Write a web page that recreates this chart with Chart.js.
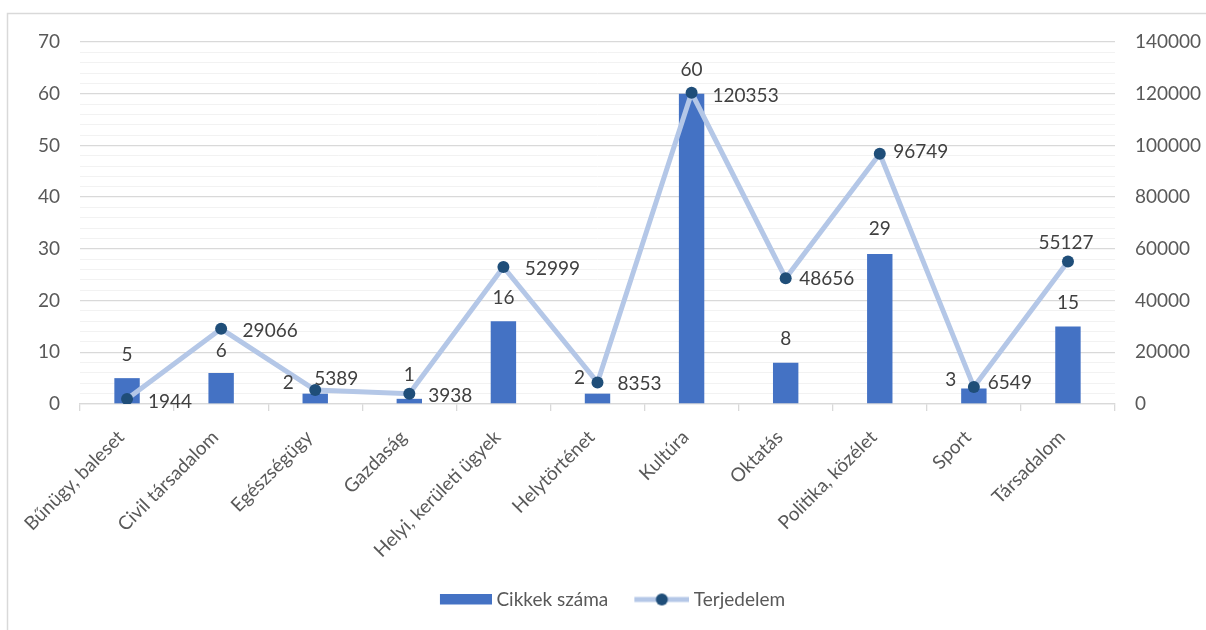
<!DOCTYPE html>
<html>
<head>
<meta charset="utf-8">
<script src="https://cdn.jsdelivr.net/npm/chart.js@4"></script>
<style>
  html, body { margin: 0; padding: 0; background: #ffffff; }
  #wrap { width: 1206px; height: 630px; position: relative; }
</style>
</head>
<body>
<div id="wrap"><canvas id="c" width="1206" height="630"></canvas></div>
<script>
// ---- data ----
const categories = ['Bűnügy, baleset', 'Civil társadalom', 'Egészségügy', 'Gazdaság', 'Helyi, kerületi ügyek', 'Helytörténet', 'Kultúra', 'Oktatás', 'Politika, közélet', 'Sport', 'Társadalom'];
const cikkekSzama = [5, 6, 2, 1, 16, 2, 60, 8, 29, 3, 15];
const terjedelem = [1944, 29066, 5389, 3938, 52999, 8353, 120353, 48656, 96749, 6549, 55127];
const seriesNames = ['Cikkek száma', 'Terjedelem'];
const leftAxis = { min: 0, max: 70, major: 10, minor: 2 };
const rightAxis = { min: 0, max: 140000, step: 20000 };

// ---- label placement (layout only) ----
const barLabelOffsets = [[0,-23],[0,-22],[-27,-11],[0,-24],[0,-23],[-18,-16],[0,-24],[0,-24],[0,-25],[-23,-9],[0,-24]];
const lineLabelOffsets = [[43,3],[49,2],[21,-11],[41,2],[49,2],[42,1],[54,3],[41,1],[41,-2],[36,-4],[-2,-19]];

const FONT = 'Lato';
const FS = 19;
const TEXT = '#595959';
const LABEL = '#404040';
const BAR = '#4472c4';
const LINE = '#b4c7e7';
const DOT = '#1f4e79';

Chart.defaults.font.family = FONT;
Chart.defaults.font.size = FS;
Chart.defaults.color = TEXT;

function makeBarSymbol() {
  const c = document.createElement('canvas');
  c.width = 76; c.height = 12;
  const g = c.getContext('2d');
  g.fillStyle = BAR;
  g.fillRect(24, 0, 52, 11);
  return c;
}
function makeLineSymbol() {
  const c = document.createElement('canvas');
  c.width = 76; c.height = 14;
  const g = c.getContext('2d');
  g.strokeStyle = LINE;
  g.lineWidth = 5;
  g.beginPath(); g.moveTo(21, 7); g.lineTo(76, 7); g.stroke();
  g.fillStyle = DOT;
  g.beginPath(); g.arc(48.5, 7, 6, 0, Math.PI * 2); g.fill();
  return c;
}
const barSymbol = makeBarSymbol();
const lineSymbol = makeLineSymbol();

const frame = {
  id: 'frame',
  beforeDraw(chart) {
    const ctx = chart.ctx;
    ctx.save();
    ctx.fillStyle = '#ffffff';
    ctx.fillRect(0, 0, chart.width, chart.height);
    ctx.strokeStyle = '#d9d9d9';
    ctx.lineWidth = 1.5;
    ctx.strokeRect(7.5, 13.5, chart.width + 10, chart.height + 10);
    ctx.restore();
  }
};

const valueLabels = {
  id: 'valueLabels',
  afterDatasetsDraw(chart) {
    const ctx = chart.ctx;
    ctx.save();
    ctx.font = FS + 'px ' + FONT;
    ctx.fillStyle = LABEL;
    ctx.textAlign = 'center';
    ctx.textBaseline = 'middle';
    const barMeta = chart.getDatasetMeta(0);
    barMeta.data.forEach((el, i) => {
      const o = barLabelOffsets[i];
      ctx.fillText(String(cikkekSzama[i]), el.x + o[0], el.y + o[1]);
    });
    const lineMeta = chart.getDatasetMeta(1);
    lineMeta.data.forEach((el, i) => {
      const o = lineLabelOffsets[i];
      ctx.fillText(String(terjedelem[i]), el.x + o[0], el.y + o[1]);
    });
    ctx.restore();
  }
};

new Chart(document.getElementById('c'), {
  data: {
    labels: categories,
    datasets: [
      {
        type: 'bar',
        label: seriesNames[0],
        data: cikkekSzama,
        backgroundColor: BAR,
        yAxisID: 'y',
        order: 1,
        categoryPercentage: 1,
        barPercentage: 0.27
      },
      {
        type: 'line',
        label: seriesNames[1],
        data: terjedelem,
        borderColor: LINE,
        borderWidth: 5,
        pointRadius: 6,
        pointBackgroundColor: DOT,
        pointBorderWidth: 0,
        pointBorderColor: DOT,
        tension: 0,
        yAxisID: 'y1',
        order: 0
      }
    ]
  },
  options: {
    responsive: false,
    animation: false,
    events: [],
    layout: { padding: { top: 42, bottom: 11, left: 0, right: 0 } },
    plugins: {
      tooltip: { enabled: false },
      legend: {
        position: 'bottom',
        labels: {
          usePointStyle: true,
          pointStyleWidth: 66,
          boxHeight: 12,
          padding: 10,
          color: TEXT,
          font: { size: FS, family: FONT },
          generateLabels() {
            return [
              { text: seriesNames[0], pointStyle: barSymbol, fillStyle: BAR, strokeStyle: BAR, lineWidth: 0, hidden: false, datasetIndex: 0, fontColor: TEXT },
              { text: seriesNames[1], pointStyle: lineSymbol, fillStyle: DOT, strokeStyle: LINE, lineWidth: 0, hidden: false, datasetIndex: 1, fontColor: TEXT }
            ];
          }
        }
      }
    },
    scales: {
      x: {
        offset: true,
        grid: { offset: true, drawOnChartArea: false, drawTicks: true, tickLength: 7, color: '#d9d9d9', lineWidth: 1.3 },
        border: { color: '#d9d9d9', width: 1.3 },
        ticks: { minRotation: 45, maxRotation: 45, autoSkip: false, padding: 15, labelOffset: -6, color: TEXT, font: { size: FS } },
        afterFit(s) { s.height = 176; }
      },
      y: {
        position: 'left',
        min: leftAxis.min,
        max: leftAxis.max,
        border: { display: false },
        grid: {
          drawTicks: false,
          color: (c) => (c.tick && c.tick.value % leftAxis.major === 0) ? '#d9d9d9' : '#f2f2f2',
          lineWidth: (c) => (c.tick && c.tick.value % leftAxis.major === 0) ? 1.3 : 1
        },
        ticks: {
          stepSize: leftAxis.minor,
          autoSkip: false,
          padding: 20,
          color: TEXT,
          callback: (v) => (v % leftAxis.major === 0 ? String(v) : '')
        },
        afterFit(s) { s.width = 80; }
      },
      y1: {
        position: 'right',
        min: rightAxis.min,
        max: rightAxis.max,
        border: { display: false },
        grid: { display: false, drawTicks: false },
        ticks: { stepSize: rightAxis.step, padding: 20, color: TEXT, callback: (v) => String(v) },
        afterFit(s) { s.width = 91; }
      }
    }
  },
  plugins: [frame, valueLabels]
});
</script>
</body>
</html>
